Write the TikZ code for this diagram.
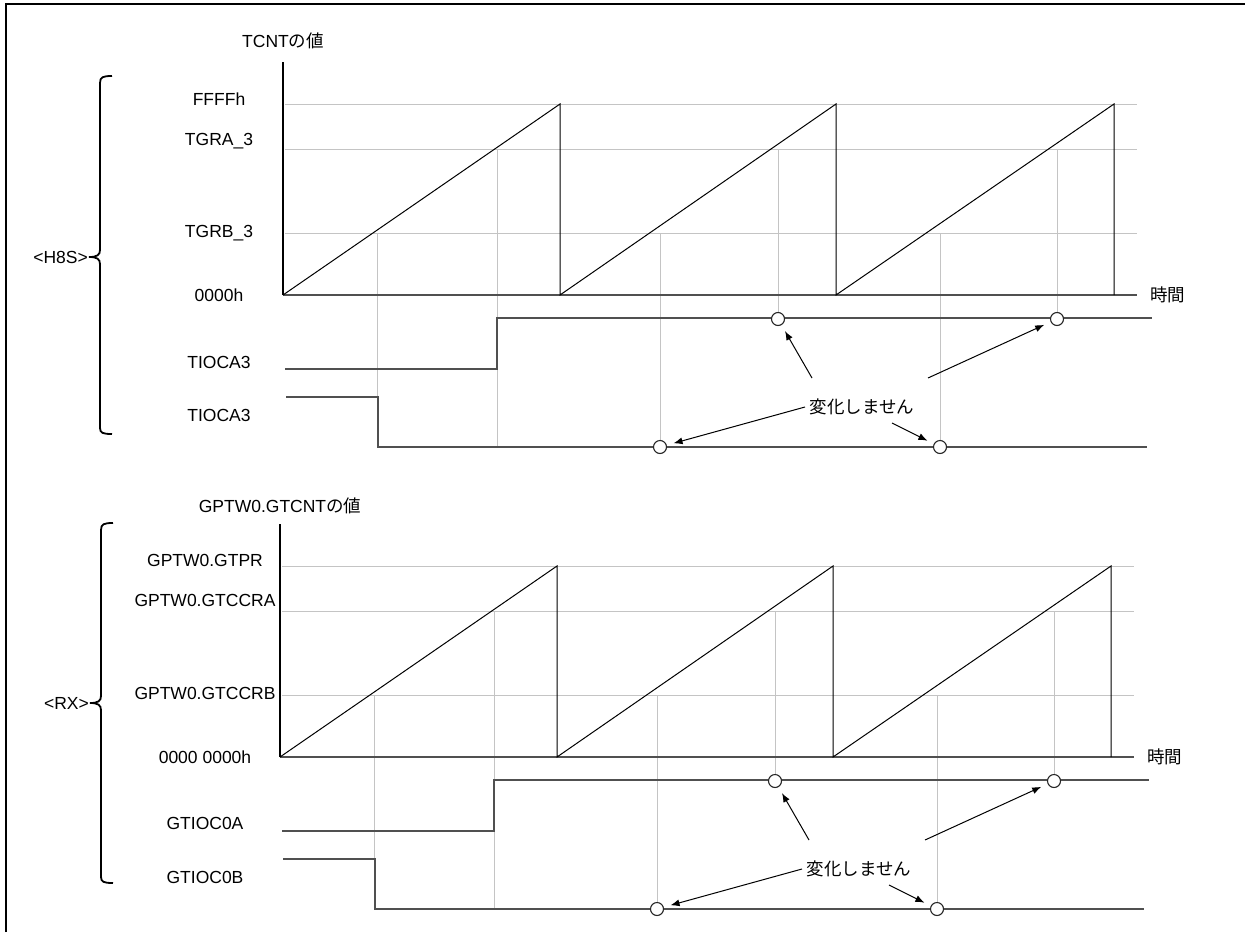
\documentclass[tikz,border=0pt]{standalone}
\usepackage{fontspec}
\setmainfont{Liberation Sans}
\newfontfamily\jpfont{Noto Sans CJK JP}
\usetikzlibrary{arrows.meta}
\definecolor{wavegrey}{HTML}{505050}
\definecolor{guidegrey}{HTML}{C4C4C4}

\begin{document}
\begin{tikzpicture}[x=1pt,y=-1pt,
  txt/.style={font=\fontsize{17.5}{20}\selectfont,inner sep=0pt,text height=12.5pt,text depth=0pt},
  axisln/.style={line width=1.2pt,black},
  baseln/.style={line width=1.4pt,wavegrey},
  ramp/.style={line width=1pt,black},
  wave/.style={line width=1.8pt,wavegrey},
  guide/.style={line width=0.9pt,guidegrey},
  brc/.style={line width=1.8pt,black},
  hold/.style={circle,draw=black!85,line width=1.1pt,fill=white,minimum size=13pt,inner sep=0pt},
  note/.style={-{Latex[length=9pt,width=7pt]},line width=1pt,shorten >=7pt}]
  \useasboundingbox (0,0) rectangle (1245,932);
  % frame
  \draw[line width=2.4pt] (6,932) -- (6,4) -- (1245,4);
  % the timing part is the same in both panels
  \foreach \p/\dx/\dy in {h/0/0,r/-3/462}{
  \begin{scope}[shift={(\dx,\dy)}]
    % compare levels and their crossing times
    \foreach \y in {104,149,233} \draw[guide] (285,\y) -- (1137,\y);
    \foreach \x/\ya/\yb in {377/233/447,497/149/447,660/233/447,778/149/319,940/233/447,1057/149/319}
      \draw[guide] (\x,\ya) -- (\x,\yb);
    % axes
    \coordinate (o\p) at (283,295);
    \draw[axisln] (283,62) -- (o\p);
    \draw[baseln] (o\p) -- (1137,295);
    \node[txt,anchor=west] (time\p) at (1150,295) {\jpfont 時間};
    % counter sawtooth
    \draw[ramp] (o\p) -- (560,104) -- (560,295) -- (836,104) -- (836,295) -- (1114,104) -- (1114,295);
    % outputs
    \draw[wave] (285,369) -- (497,369) -- (497,318) -- (1152,318);
    \draw[wave] (286,397) -- (378,397) -- (378,447) -- (1147,447);
    \node[hold] (ha\p) at (778,319) {};
    \node[hold] (hb\p) at (1057,319) {};
    \node[hold] (hc\p) at (660,447) {};
    \node[hold] (hd\p) at (940,447) {};
    % note
    \node[txt] (nc\p) at (862,407) {\jpfont 変化しません};
    \coordinate (sa\p) at (812,378);
    \coordinate (sb\p) at (928,378);
    \coordinate (sc\p) at (805,407);
    \coordinate (sd\p) at (892,423);
    \draw[note] (sa\p) -- (ha\p);
    \draw[note] (sb\p) -- (hb\p);
    \draw[note] (sc\p) -- (hc\p);
    \draw[note] (sd\p) -- (hd\p);
  \end{scope}}
  % H8S labels
  \node[txt] (valh) at (283,41) {TCNT{\jpfont の値}};
  \node[txt] (maxh) at (219,99) {FFFFh};
  \node[txt] (cmah) at (219,139) {TGRA\_3};
  \node[txt] (cmbh) at (219,231) {TGRB\_3};
  \node[txt] (zeroh) at (219,295) {0000h};
  \node[txt] (outah) at (219,362) {TIOCA3};
  \node[txt] (outbh) at (219,415) {TIOCA3};
  \draw[brc] (112,76) .. controls (103,76) and (100,77) .. (100,83) -- (100,250)
    .. controls (100,255) and (97,257) .. (89,257) .. controls (97,257) and (100,259) .. (100,264)
    -- (100,428) .. controls (100,433) and (103,434) .. (112,434);
  \node[txt,anchor=east] (mcuh) at (88,257) {<H8S>};
  % RX labels
  \node[txt] (valr) at (280,506) {GPTW0.GTCNT{\jpfont の値}};
  \node[txt] (maxr) at (205,560) {GPTW0.GTPR};
  \node[txt] (cmar) at (205,600) {GPTW0.GTCCRA};
  \node[txt] (cmbr) at (205,693) {GPTW0.GTCCRB};
  \node[txt] (zeror) at (205,757) {0000 0000h};
  \node[txt] (outar) at (205,823) {GTIOC0A};
  \node[txt] (outbr) at (205,877) {GTIOC0B};
  \draw[brc] (113,523) .. controls (104,523) and (101,524) .. (101,530) -- (101,696)
    .. controls (101,701) and (98,703) .. (90,703) .. controls (98,703) and (101,705) .. (101,710)
    -- (101,877) .. controls (101,882) and (104,883) .. (113,883);
  \node[txt,anchor=east] (mcur) at (89,703) {<RX>};
\end{tikzpicture}
\end{document}
